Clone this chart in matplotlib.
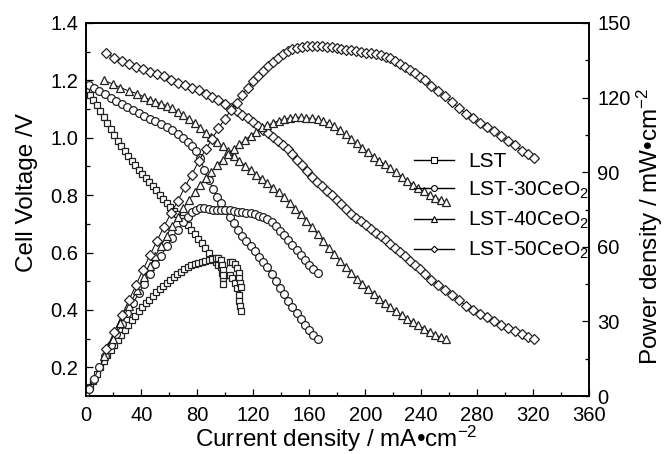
#!/usr/bin/env python3
"""
Cell voltage and power density against current density for the LST anodes
with 0, 30, 40 and 50 wt% CeO2. Voltage goes on the left axis, power on the
right one; both share the current density axis.
"""

import matplotlib
matplotlib.use("Agg")
import matplotlib.pyplot as plt
from matplotlib.lines import Line2D
from matplotlib.ticker import MultipleLocator, FormatStrFormatter

plt.rcParams["font.family"] = ["Liberation Sans", "DejaVu Sans"]
plt.rcParams["mathtext.fontset"] = "custom"
plt.rcParams["mathtext.rm"] = "Liberation Sans"
plt.rcParams["mathtext.it"] = "Liberation Sans:italic"
plt.rcParams["mathtext.bf"] = "Liberation Sans:bold"


# LST
lst_current = [0.5, 3, 5.5, 8, 10.5, 13, 15.5, 18, 20.5, 23, 25.5, 28, 30.5, 33, 35.5,
               38, 40.5, 43, 45.5, 48, 50.5, 53, 55.5, 58, 60.5, 63, 65.5, 68, 70.5, 73,
               75.5, 78, 80.5, 83, 85.5, 88, 90.5, 93, 95, 97, 97.5, 98, 98.5, 103, 105,
               107, 108.5, 109.5, 110, 110.5, 111]
lst_voltage = [1.170, 1.150, 1.131, 1.113, 1.095, 1.074, 1.053, 1.032, 1.010, 0.989,
               0.970, 0.953, 0.937, 0.920, 0.904, 0.888, 0.874, 0.860, 0.845, 0.831,
               0.817, 0.802, 0.787, 0.772, 0.759, 0.746, 0.734, 0.722, 0.710, 0.695,
               0.680, 0.664, 0.648, 0.632, 0.615, 0.598, 0.582, 0.567, 0.557, 0.548,
               0.530, 0.510, 0.490, 0.520, 0.510, 0.495, 0.475, 0.452, 0.432, 0.412, 0.396]
lst_power = [0.6, 3.5, 6.2, 8.9, 11.5, 14.0, 16.3, 18.6, 20.7, 22.7, 24.7, 26.7, 28.5,
             30.4, 32.2, 34.0, 35.7, 37.2, 38.8, 40.3, 41.7, 43.0, 44.3, 45.5, 46.6,
             47.8, 49.0, 50.0, 51.0, 51.8, 52.5, 53.0, 53.5, 54.0, 54.4, 54.7, 55.0,
             55.3, 55.3, 54.8, 52.5, 50.5, 48.5, 54.0, 54.0, 53.2, 51.5, 49.5, 47.5,
             45.5, 44.0]

# LST-30CeO2
ce30_current = [2.5, 6, 10, 14, 18, 22, 26, 30, 34, 38, 42, 46, 50, 54, 58, 62, 66, 70,
                73, 76, 79, 82, 85, 88, 91, 94, 97, 100, 103, 106, 109, 112, 115, 118,
                121, 124, 127, 130, 133, 136, 139, 142, 145, 148, 151, 154, 157, 160,
                163, 166]
ce30_voltage = [1.183, 1.172, 1.163, 1.151, 1.139, 1.127, 1.116, 1.106, 1.096, 1.087,
                1.077, 1.067, 1.057, 1.047, 1.038, 1.026, 1.013, 0.998, 0.986, 0.971,
                0.953, 0.928, 0.889, 0.854, 0.823, 0.795, 0.771, 0.748, 0.725, 0.702,
                0.680, 0.659, 0.640, 0.622, 0.604, 0.585, 0.567, 0.548, 0.525, 0.502,
                0.478, 0.455, 0.432, 0.410, 0.388, 0.368, 0.349, 0.330, 0.313, 0.298]
ce30_power = [3.0, 7.0, 11.6, 16.1, 20.5, 24.8, 29.0, 33.2, 37.3, 41.3, 45.2, 49.1,
              52.9, 56.5, 60.2, 63.6, 66.9, 69.9, 72.0, 73.8, 75.0, 75.5, 75.5, 75.3,
              75.0, 74.7, 74.8, 74.8, 74.7, 74.4, 74.1, 73.8, 73.6, 73.4, 73.1, 72.5,
              72.0, 71.2, 69.8, 68.3, 66.4, 64.6, 62.6, 60.7, 58.6, 56.7, 54.8, 52.8,
              51.0, 49.5]

# LST-40CeO2
ce40_current = [13.5, 19.5, 25, 31, 37, 42, 46, 50, 54, 58, 62, 66, 70, 74, 78, 82, 86,
                90, 94, 98, 102, 106, 110, 114, 118, 122, 126, 130, 134, 138, 142, 146,
                150, 154, 158, 162, 166, 170, 174, 178, 182, 186, 190, 194, 198, 202,
                206, 210, 214, 218, 222, 226, 230, 234, 238, 242, 246, 250, 254, 258]
ce40_voltage = [1.200, 1.187, 1.175, 1.163, 1.154, 1.142, 1.133, 1.125, 1.119, 1.112,
                1.103, 1.091, 1.078, 1.065, 1.051, 1.035, 1.018, 1.002, 0.986, 0.970,
                0.954, 0.937, 0.920, 0.903, 0.887, 0.871, 0.857, 0.843, 0.826, 0.810,
                0.792, 0.772, 0.752, 0.733, 0.711, 0.688, 0.664, 0.640, 0.617, 0.594,
                0.572, 0.550, 0.529, 0.509, 0.490, 0.472, 0.455, 0.439, 0.424, 0.410,
                0.396, 0.382, 0.369, 0.357, 0.346, 0.335, 0.324, 0.314, 0.305, 0.297]
ce40_power = [16.2, 23.1, 29.4, 36.1, 42.7, 48.0, 52.1, 56.3, 60.4, 64.5, 68.4, 72.0,
              75.5, 78.8, 82.0, 84.9, 87.5, 90.2, 92.7, 95.1, 97.3, 99.3, 101.2, 102.9,
              104.7, 106.3, 108.0, 108.8, 109.8, 110.7, 111.3, 111.8, 112.1, 112.1,
              111.9, 111.6, 111.2, 110.5, 109.6, 108.4, 106.9, 105.2, 103.4, 101.6,
              99.8, 98.0, 96.3, 94.7, 93.1, 91.5, 89.9, 88.2, 86.6, 85.0, 83.6, 82.3,
              81.0, 79.8, 78.8, 78.0]

# LST-50CeO2
ce50_current = [15, 20.5, 26, 31, 36, 41, 46, 51, 56, 61, 66, 71, 76, 81, 86, 90.5, 95,
                99.5, 104, 108, 112, 116, 120, 123.5, 127, 130.5, 134, 137.5, 141, 144.5,
                148, 151.5, 155, 158.5, 162, 165.5, 169, 172.5, 176, 179.5, 183, 186.5,
                190, 193.5, 197, 200.5, 204, 207.5, 211, 214.5, 218, 221.5, 225, 228.5,
                232, 235.5, 239, 242.5, 247, 252, 257, 262, 267, 272, 277, 282, 287,
                292, 297, 302, 307, 312, 316.5, 321]
ce50_voltage = [1.294, 1.279, 1.267, 1.257, 1.246, 1.238, 1.230, 1.222, 1.214, 1.203,
                1.192, 1.183, 1.175, 1.165, 1.154, 1.143, 1.132, 1.118, 1.104, 1.093,
                1.081, 1.068, 1.054, 1.041, 1.027, 1.015, 1.002, 0.989, 0.976, 0.960,
                0.944, 0.924, 0.904, 0.884, 0.865, 0.847, 0.831, 0.815, 0.799, 0.784,
                0.768, 0.751, 0.736, 0.722, 0.709, 0.696, 0.683, 0.669, 0.656, 0.642,
                0.629, 0.615, 0.602, 0.588, 0.572, 0.557, 0.541, 0.525, 0.505, 0.488,
                0.470, 0.452, 0.433, 0.415, 0.400, 0.386, 0.374, 0.362, 0.349, 0.338,
                0.326, 0.315, 0.307, 0.299]
ce50_power = [19.0, 25.8, 32.5, 38.5, 44.5, 50.6, 56.6, 62.3, 68.0, 73.4, 78.4, 84.0,
              89.0, 94.6, 99.2, 103.4, 107.6, 111.3, 115.0, 118.0, 121.2, 124.0, 126.6,
              128.8, 130.6, 132.6, 134.4, 136.1, 137.6, 138.8, 139.6, 140.1, 140.5,
              140.7, 140.8, 140.8, 140.7, 140.5, 140.2, 140.0, 139.6, 139.3, 139.0,
              138.8, 138.4, 138.1, 137.8, 137.4, 137.0, 136.5, 135.8, 134.8, 133.5,
              132.3, 131.0, 129.9, 128.4, 127.0, 124.8, 122.8, 120.5, 118.4, 115.7,
              113.6, 111.6, 109.8, 108.0, 106.4, 104.5, 102.7, 100.8, 98.7, 97.2, 95.6]

sample_labels = ["LST", "LST-30CeO$_2$", "LST-40CeO$_2$", "LST-50CeO$_2$"]

# marker, size in the plot, size in the legend
STYLES = [("s", 5.0, 3.8), ("o", 5.6, 4.2), ("^", 6.2, 4.6), ("D", 4.7, 3.3)]

FIG_W, FIG_H = 664, 454
AX_LEFT, AX_RIGHT, AX_TOP, AX_BOTTOM = 85.5, 589.0, 23.0, 396.0


def px(x, y):
    return x / FIG_W, 1 - y / FIG_H


def style_axis(ax):
    for spine in ax.spines.values():
        spine.set_linewidth(1.2)
    ax.tick_params(which="both", direction="in", width=0.9, labelsize=14.5)
    ax.tick_params(which="major", length=5)
    ax.tick_params(which="minor", length=3)


def main():
    fig = plt.figure(figsize=(FIG_W / 100, FIG_H / 100), dpi=100)
    x0, y0 = px(AX_LEFT, AX_BOTTOM)
    x1, y1 = px(AX_RIGHT, AX_TOP)
    ax = fig.add_axes([x0, y0, x1 - x0, y1 - y0])
    ax2 = ax.twinx()

    series = [
        (lst_current, lst_voltage, lst_power),
        (ce30_current, ce30_voltage, ce30_power),
        (ce40_current, ce40_voltage, ce40_power),
        (ce50_current, ce50_voltage, ce50_power),
    ]
    for (current, voltage, power), (marker, size, _) in zip(series, STYLES):
        common = dict(color="black", lw=0.7, marker=marker, ms=size, mfc="white",
                      mec="#222222", mew=0.9)
        ax.plot(current, voltage, **common)
        ax2.plot(current, power, **common)

    ax.set_xlim(0, 360)
    ax.set_ylim(0.1, 1.4)
    ax2.set_ylim(0, 150)

    ax.xaxis.set_major_locator(MultipleLocator(40))
    ax.xaxis.set_minor_locator(MultipleLocator(20))
    ax.yaxis.set_major_locator(MultipleLocator(0.2))
    ax.yaxis.set_minor_locator(MultipleLocator(0.1))
    ax.yaxis.set_major_formatter(FormatStrFormatter("%.1f"))
    ax2.yaxis.set_major_locator(MultipleLocator(30))
    ax2.yaxis.set_minor_locator(MultipleLocator(15))

    style_axis(ax)
    style_axis(ax2)
    ax.tick_params(which="both", top=False, right=False)
    ax.tick_params(axis="x", pad=7)
    ax.tick_params(axis="y", pad=5)
    ax2.tick_params(which="both", top=False, bottom=False, left=False,
                    labelbottom=False, pad=6)
    ax.set_yticks([0.2, 0.4, 0.6, 0.8, 1.0, 1.2, 1.4])

    fig.text(*px(27, 193), "Cell Voltage /V", rotation=90, ha="center", va="center",
             fontsize=17.5)
    fig.text(*px(336, 447), "Current density / mA\u2022cm$^{-2}$", ha="center",
             va="baseline", fontsize=17.5)
    fig.text(*px(650, 226), "Power density / mW\u2022cm$^{-2}$", rotation=90,
             ha="center", va="center", fontsize=17.5)

    handles = [
        Line2D([], [], color="black", lw=1.0, marker=marker, ms=leg_size, mfc="white",
               mec="black", mew=0.8)
        for marker, _, leg_size in STYLES
    ]
    ax2.legend(handles, sample_labels, loc="upper left", bbox_to_anchor=px(414, 152),
               bbox_transform=fig.transFigure, frameon=False, fontsize=15,
               handlelength=1.9, handletextpad=0.7, labelspacing=0.42,
               borderpad=0, borderaxespad=0)

    fig.savefig("out.png", dpi=100)


if __name__ == "__main__":
    main()
